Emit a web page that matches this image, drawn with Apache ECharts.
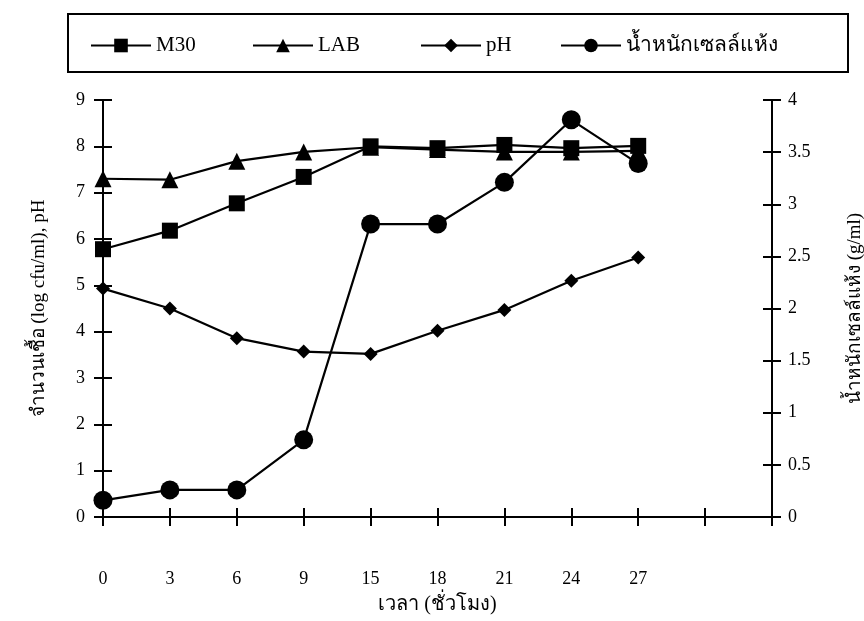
<!DOCTYPE html>
<html>
<head>
<meta charset="utf-8">
<script src="https://cdn.jsdelivr.net/npm/echarts@6/dist/echarts.min.js"></script>
<style>
  html, body { margin: 0; padding: 0; background: #fff; }
  #plot1 { width: 864px; height: 621px; }
</style>
</head>
<body>
<div id="plot1"></div>
<script>
// hours (the last two slots are empty ticks on the axis)
var hours = ['0', '3', '6', '9', '15', '18', '21', '24', '27', '', ''];
var m30 = [5.78, 6.18, 6.77, 7.34, 8.0, 7.96, 8.03, 7.96, 8.01];
var lab = [7.30, 7.28, 7.68, 7.88, 7.98, 7.93, 7.88, 7.88, 7.90];
var ph = [4.93, 4.50, 3.86, 3.57, 3.52, 4.02, 4.47, 5.10, 5.60];
var dryWeight = [0.16, 0.26, 0.26, 0.74, 2.81, 2.81, 3.21, 3.81, 3.39];
var seriesNames = ['M30', 'LAB', 'pH', 'น้ำหนักเซลล์แห้ง'];

var ink = '#000';
var serif = "'Liberation Serif', 'Times New Roman', serif";

var chartDom = document.getElementById('plot1');
var myChart = echarts.init(chartDom);

function mkSeries(name, data, symbol, size, yIdx) {
  return {
    name: name,
    type: 'line',
    data: data,
    yAxisIndex: yIdx,
    symbol: symbol,
    symbolSize: size,
    showAllSymbol: true,
    lineStyle: { color: ink, width: 2.2 },
    itemStyle: { color: ink },
    emphasis: { disabled: true },
    animation: false
  };
}

// one legend per item so each sits where it does in the picture
var legendLefts = [85, 247, 415, 555];
var legends = [];
echarts.util.each(seriesNames, function (nm, i) {
  legends.push({
    top: 30,
    left: legendLefts[i],
    itemWidth: 60,
    itemHeight: 17,
    textStyle: { fontFamily: serif, fontSize: 21, color: ink },
    data: [nm]
  });
});

var option = {
  backgroundColor: '#fff',
  animation: false,
  graphic: [{
    type: 'rect',
    shape: { x: 68, y: 14, width: 780, height: 58 },
    style: { fill: 'none', stroke: ink, lineWidth: 2 }
  }],
  legend: legends,
  grid: { left: 103, right: 92, top: 100, height: 417, outerBoundsMode: 'none' },
  xAxis: [{
    type: 'category',
    data: hours,
    boundaryGap: false,
    position: 'bottom',
    axisLine: { lineStyle: { color: ink, width: 2 } },
    axisTick: { show: true, length: 9, inside: false, lineStyle: { color: ink, width: 2 } },
    axisLabel: { margin: 53, fontFamily: serif, fontSize: 18, color: ink, interval: 0 },
    name: 'เวลา (ชั่วโมง)',
    nameLocation: 'middle',
    nameGap: 78,
    nameTextStyle: { fontFamily: serif, fontSize: 20, color: ink },
    splitLine: { show: false }
  }, {
    type: 'category',
    data: hours,
    boundaryGap: false,
    position: 'bottom',
    axisLine: { show: false },
    axisTick: { show: true, length: 9, inside: true, lineStyle: { color: ink, width: 2 } },
    axisLabel: { show: false },
    splitLine: { show: false }
  }],
  yAxis: [{
    type: 'value',
    min: 0, max: 9, interval: 1,
    position: 'left',
    axisLine: { show: true, lineStyle: { color: ink, width: 2 } },
    axisTick: { show: true, length: 9, lineStyle: { color: ink, width: 2 } },
    axisLabel: { margin: 18, fontFamily: serif, fontSize: 18, color: ink },
    splitLine: { show: false },
    name: 'จำนวนเชื้อ (log cfu/ml), pH',
    nameLocation: 'middle',
    nameGap: 54,
    nameRotate: 90,
    nameTextStyle: { fontFamily: serif, fontSize: 19, color: ink }
  }, {
    type: 'value',
    min: 0, max: 9, interval: 1,
    position: 'left',
    offset: 0,
    axisLine: { show: false },
    axisTick: { show: true, length: 9, inside: true, lineStyle: { color: ink, width: 2 } },
    axisLabel: { show: false },
    splitLine: { show: false }
  }, {
    type: 'value',
    min: 0, max: 4, interval: 0.5,
    position: 'right',
    offset: 0,
    axisLine: { show: true, lineStyle: { color: ink, width: 2 } },
    axisTick: { show: true, length: 9, lineStyle: { color: ink, width: 2 } },
    axisLabel: { margin: 16, fontFamily: serif, fontSize: 18, color: ink },
    splitLine: { show: false },
    name: 'น้ำหนักเซลล์แห้ง (g/ml)',
    nameLocation: 'middle',
    nameGap: 74,
    nameRotate: 90,
    nameTextStyle: { fontFamily: serif, fontSize: 19, color: ink }
  }, {
    type: 'value',
    min: 0, max: 4, interval: 0.5,
    position: 'right',
    offset: 0,
    axisLine: { show: false },
    axisTick: { show: true, length: 9, inside: true, lineStyle: { color: ink, width: 2 } },
    axisLabel: { show: false },
    splitLine: { show: false }
  }],
  series: [
    mkSeries(seriesNames[0], m30, 'rect', 16, 0),
    mkSeries(seriesNames[1], lab, 'triangle', 17, 0),
    mkSeries(seriesNames[2], ph, 'diamond', 14, 0),
    mkSeries(seriesNames[3], dryWeight, 'circle', 19, 2)
  ]
};

myChart.setOption(option);
</script>
</body>
</html>
